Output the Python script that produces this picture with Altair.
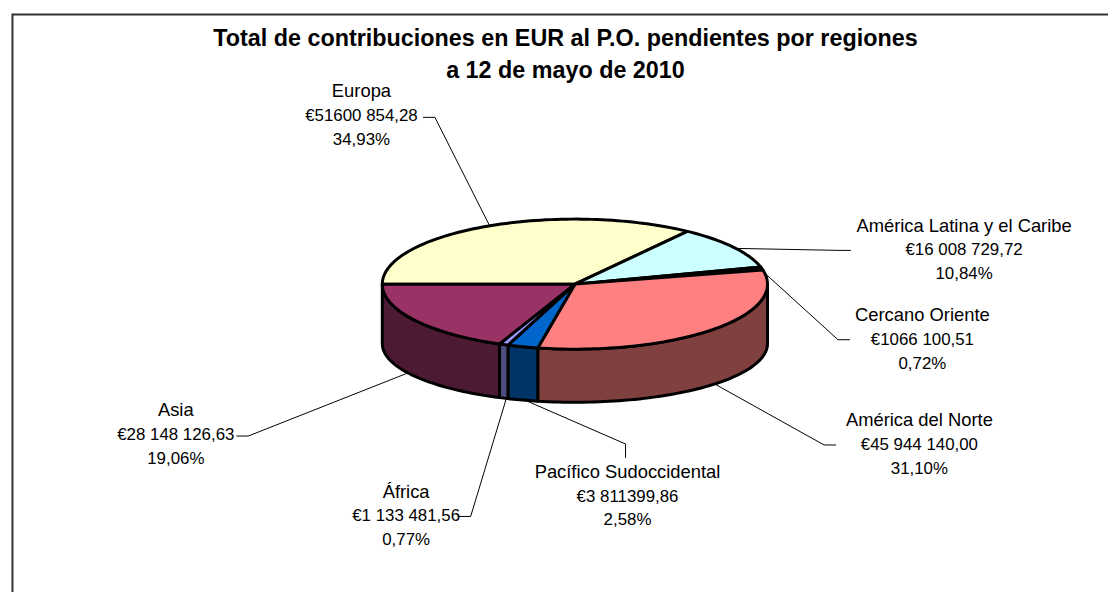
import numpy as np
import pandas as pd
import altair as alt

# ---- values ----
regions = ["Europa", "América Latina y el Caribe", "Cercano Oriente", "América del Norte",
           "Pacífico Sudoccidental", "África", "Asia"]
amounts = [51600854.28, 16008729.72, 1066100.51, 45944140.00, 3811399.86, 1133481.56, 28148126.63]
amount_labels = ["€51600 854,28", "€16 008 729,72", "€1066 100,51", "€45 944 140,00",
                 "€3 811399,86", "€1 133 481,56", "€28 148 126,63"]
percent_labels = ["34,93%", "10,84%", "0,72%", "31,10%", "2,58%", "0,77%", "19,06%"]
title_lines = ["Total de contribuciones en EUR al P.O. pendientes por regiones", "a 12 de mayo de 2010"]

top_colors = ["#FFFFCC", "#CCFFFF", "#660066", "#FF8080", "#0066CC", "#9999FF", "#993366"]
side_colors = ["#80805F", "#668080", "#330033", "#804040", "#003366", "#4D4D80", "#4D1A33"]

# ---- layout ----
W, H = 1104, 582
X0, Y0 = 8, 11
CX, CY, RX, RY = 575, 283, 194, 65.5
BY, BRY = 343, 59
WARP = np.radians(1.8)  # perspective: front of the tilted disc is drawn slightly wider

label_pos = {  # centre x, first baseline y
    "Europa": (360, 94.5), "América Latina y el Caribe": (967, 230), "Cercano Oriente": (925, 320),
    "América del Norte": (922, 426), "Pacífico Sudoccidental": (628, 478), "África": (405, 498),
    "Asia": (173, 416)}
leader_paths = {
    "Europa": [(422, 115), (434, 115), (489, 224)],
    "América Latina y el Caribe": [(737, 247), (841, 249), (853, 249)],
    "Cercano Oriente": [(763, 269), (840, 339), (852, 339)],
    "América del Norte": [(713, 382), (826, 445), (838, 445)],
    "Pacífico Sudoccidental": [(525, 400), (626, 444), (626, 458)],
    "África": [(506, 398), (470, 517), (457, 517)],
    "Asia": [(408, 372), (246, 436), (234, 436)]}


def warp(t):
    return np.where(np.sin(t) < 0, t + WARP * np.sin(t), t)


shares = np.array(amounts) / sum(amounts)
bounds = np.radians(180 - np.concatenate([[0], np.cumsum(shares)]) * 360)

top_rows, side_rows = [], []
for i, name in enumerate(regions):
    a, b = bounds[i], bounds[i + 1]
    n = max(3, int(abs(a - b) / np.radians(1.5)))
    t = warp(np.linspace(a, b, n))
    px = CX + RX * np.cos(t)
    py = CY - RY * np.sin(t)
    pts = [(CX, CY)] + list(zip(px, py)) + [(CX, CY)]
    top_rows += [dict(key=name, c=top_colors[i], x=p[0], y=p[1], o=j) for j, p in enumerate(pts)]
    # visible (front) part of the rim
    a2, b2 = min(a, 0.0), max(b, -np.pi)
    if a2 > b2:
        t2 = warp(np.linspace(a2, b2, max(3, int(abs(a2 - b2) / np.radians(1.5)))))
        up = list(zip(CX + RX * np.cos(t2), CY - RY * np.sin(t2)))
        lo = list(zip(CX + RX * np.cos(t2), BY - BRY * np.sin(t2)))
        pts = up + lo[::-1] + [up[0]]
        side_rows += [dict(key=name, c=side_colors[i], x=p[0], y=p[1], o=j) for j, p in enumerate(pts)]

name_rows, num_rows = [], []
for i, name in enumerate(regions):
    lx, ly = label_pos[name]
    name_rows.append(dict(x=lx, y=ly, t=name))
    num_rows.append(dict(x=lx, y=ly + 24, t=amount_labels[i]))
    num_rows.append(dict(x=lx, y=ly + 48, t=percent_labels[i]))
title_rows = [dict(x=565.5, y=43 + 32 * k, t=s) for k, s in enumerate(title_lines)]
leader_rows = [dict(key=n, x=p[0], y=p[1], o=j) for n, path in leader_paths.items() for j, p in enumerate(path)]
frame_rows = [dict(x=X0 + 0.5, y=Y0 + H, o=0), dict(x=X0 + 0.5, y=Y0 + 0.5, o=1), dict(x=X0 + W, y=Y0 + 0.5, o=2)]

xs = alt.Scale(domain=[X0, X0 + W], range=[0, W])
ys = alt.Scale(domain=[Y0, Y0 + H], range=[0, H])
X = alt.X("x:Q", scale=xs, axis=None)
Y = alt.Y("y:Q", scale=ys, axis=None)


def polys(rows):
    df = pd.DataFrame(rows)
    cs = list(dict.fromkeys(df["c"]))
    return alt.Chart(df).mark_line(stroke="black", strokeWidth=3, strokeJoin="round").encode(
        x=X, y=Y, order="o:Q", detail="key:N",
        fill=alt.Fill("c:N", scale=alt.Scale(domain=cs, range=cs), legend=None))


def texts(rows, size, weight="normal"):
    return alt.Chart(pd.DataFrame(rows)).mark_text(
        font="Liberation Sans", fontSize=size, fontWeight=weight, align="center",
        baseline="alphabetic", color="black").encode(x=X, y=Y, text="t:N")


frame = alt.Chart(pd.DataFrame(frame_rows)).mark_line(color="#333333", strokeWidth=2).encode(x=X, y=Y, order="o:Q")
leaders = alt.Chart(pd.DataFrame(leader_rows)).mark_line(color="black", strokeWidth=1).encode(
    x=X, y=Y, order="o:Q", detail="key:N")

chart = alt.layer(frame, leaders, polys(side_rows), polys(top_rows), texts(name_rows, 18.5), texts(num_rows, 17),
                  texts(title_rows, 23.5, "bold")).resolve_scale(fill="independent").properties(
    width=W, height=H, padding=0, background="white").configure_view(stroke=None)

chart.save("out.html", embed_options={"renderer": "svg", "actions": False})
